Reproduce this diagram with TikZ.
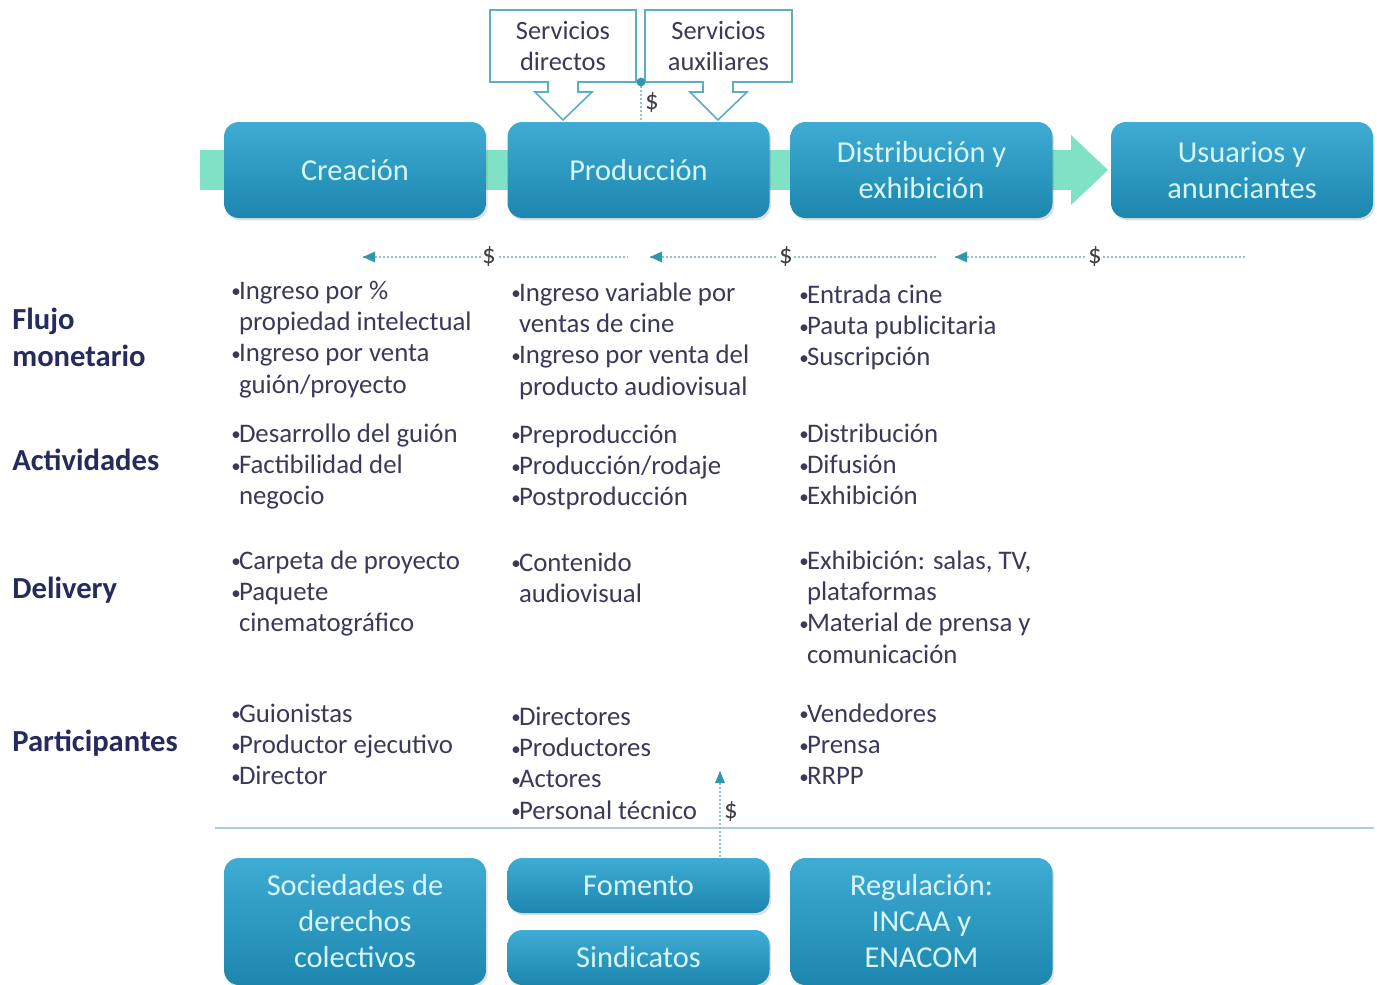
\documentclass[tikz,border=0pt]{standalone}
\usepackage{fontspec}
\setmainfont{Carlito}
\usetikzlibrary{arrows.meta,shadows}
\definecolor{boxtop}{HTML}{3FACD3}
\definecolor{boxbot}{HTML}{1C86AE}
\definecolor{boxtxt}{HTML}{D8F6FA}
\definecolor{band}{HTML}{80E2C4}
\definecolor{navy}{HTML}{262B5E}
\definecolor{bodytxt}{HTML}{3A3A58}
\definecolor{callout}{HTML}{5AAFC2}
\definecolor{dotc}{HTML}{9ABFCC}
\definecolor{headc}{HTML}{2F97AE}
\definecolor{sepc}{HTML}{A8CFD3}
\newcommand{\bul}{\makebox[3.8pt][l]{\raisebox{0.1ex}{\fontsize{9.5}{9.5}\selectfont •}}}
\newcommand{\ind}{\hspace*{3.8pt}}
\newcommand{\blk}[1]{\begin{tabular}[t]{@{}l@{}}#1\end{tabular}}
\begin{document}
\begin{tikzpicture}[x=0.5pt,y=-0.5pt,
  stage/.style={rounded corners=7.5pt, top color=boxtop, bottom color=boxbot, draw=none,
    minimum width=131pt, text=boxtxt, align=center,
    font=\fontsize{15.2}{18}\selectfont,
    drop shadow={opacity=0.25, shadow xshift=0.8pt, shadow yshift=-1.2pt}},
  bodyblk/.style={anchor=base west, inner sep=0pt, text=bodytxt,
    font=\fontsize{13.4}{15.7}\selectfont},
  rowlabel/.style={anchor=base west, inner sep=0pt, text=navy,
    font=\fontsize{15.3}{18.5}\selectfont\bfseries},
  flowline/.style={dotc, line width=0.9pt, dash pattern=on 1pt off 1pt},
  money/.style={fill=white, inner sep=0.5pt, text=black!75, font=\fontsize{13.4}{13.4}\selectfont},
  callbox/.style={draw=callout, line width=0.8pt, fill=white},
  calltxt/.style={text=bodytxt, align=center, font=\fontsize{13.2}{15.5}\selectfont}
]
\useasboundingbox (0,0) rectangle (1377,985);
\fill[white] (0,0) rectangle (1377,985);

% green band with arrow head
\fill[band] (200,150) rectangle (1071,190);
\fill[band] (1071,135) -- (1108,170) -- (1071,205) -- cycle;

% stage boxes
\node[stage, minimum height=48pt] (crea) at (355,170) {Creación};
\node[stage, minimum height=48pt] (prod) at (638.5,170) {Producción};
\node[stage, minimum height=48pt] (dist) at (921.5,170) {Distribución y\\exhibición};
\node[stage, minimum height=48pt] (usu) at (1242,170) {Usuarios y\\anunciantes};

% callouts
\draw[callbox] (490,10) -- (636,10) -- (636,82) -- (578,82) -- (578,92) -- (592,92)
  -- (563,120) -- (535,92) -- (548,92) -- (548,82) -- (490,82) -- cycle;
\node[calltxt] (sdir) at (563,46) {Servicios\\directos};
\draw[callbox] (645,10) -- (792,10) -- (792,82) -- (733,82) -- (733,92) -- (747,92)
  -- (718,120) -- (690,92) -- (703,92) -- (703,82) -- (645,82) -- cycle;
\node[calltxt] (saux) at (718.5,46) {Servicios\\auxiliares};
\coordinate (vtop) at (641,82);
\coordinate (vbot) at (641,121);
\draw[flowline] (vtop) -- (vbot);
\fill[headc] (vtop) circle (2.2pt);
\node[money, fill=none] (m0) at (652,103) {\$};

% money flow arrows
\coordinate (a1) at (363,257); \coordinate (b1) at (628,257);
\coordinate (a2) at (650,257); \coordinate (b2) at (936,257);
\coordinate (a3) at (955,257); \coordinate (b3) at (1246,257);
\foreach \a/\b in {a1/b1,a2/b2,a3/b3}{
  \draw[flowline] (\a) -- (\b);
  \fill[headc] (\a) -- ++(12,-5.5) -- ++(0,11) -- cycle;
}
\node[money] (m1) at (489,257) {\$};
\node[money] (m2) at (786,257) {\$};
\node[money] (m3) at (1095,257) {\$};

% row labels
\node[rowlabel] (lflujo) at (12,329) {\blk{Flujo\\monetario}};
\node[rowlabel] (lact) at (12,470) {Actividades};
\node[rowlabel] (ldel) at (12,598) {Delivery};
\node[rowlabel] (lpart) at (12,751) {Participantes};

% Flujo monetario
\node[bodyblk] (f1) at (231,299) {\blk{\bul Ingreso por \%\\\ind propiedad intelectual\\\bul Ingreso por venta\\\ind guión/proyecto}};
\node[bodyblk] (f2) at (511,301) {\blk{\bul Ingreso variable por\\\ind ventas de cine\\\bul Ingreso por venta del\\\ind producto audiovisual}};
\node[bodyblk] (f3) at (799,303) {\blk{\bul Entrada cine\\\bul Pauta publicitaria\\\bul Suscripción}};

% Actividades
\node[bodyblk] (c1) at (231,442) {\blk{\bul Desarrollo del guión\\\bul Factibilidad del\\\ind negocio}};
\node[bodyblk] (c2) at (511,443) {\blk{\bul Preproducción\\\bul Producción/rodaje\\\bul Postproducción}};
\node[bodyblk] (c3) at (799,442) {\blk{\bul Distribución\\\bul Difusión\\\bul Exhibición}};

% Delivery
\node[bodyblk] (d1) at (231,569) {\blk{\bul Carpeta de proyecto\\\bul Paquete\\\ind cinematográfico}};
\node[bodyblk] (d2) at (511,571) {\blk{\bul Contenido\\\ind audiovisual}};
\node[bodyblk] (d3) at (799,569) {\blk{\bul Exhibición: salas, TV,\\\ind plataformas\\\bul Material de prensa y\\\ind comunicación}};

% Participantes
\node[bodyblk] (p1) at (231,722) {\blk{\bul Guionistas\\\bul Productor ejecutivo\\\bul Director}};
\node[bodyblk] (p2) at (511,725) {\blk{\bul Directores\\\bul Productores\\\bul Actores\\\bul Personal técnico}};
\node[bodyblk] (p3) at (799,722) {\blk{\bul Vendedores\\\bul Prensa\\\bul RRPP}};

% separator
\coordinate (s1) at (215,828); \coordinate (s2) at (1374,828);
\draw[sepc, line width=0.8pt] (s1) -- (s2);

% bottom boxes
\node[stage, minimum height=63.5pt] (soc) at (355,921.5) {Sociedades de\\derechos\\colectivos};
\node[stage, minimum height=27.5pt] (fom) at (638.5,885.5) {Fomento};
\node[stage, minimum height=27.5pt] (sin) at (638.5,957.5) {Sindicatos};
\node[stage, minimum height=63.5pt] (reg) at (921.5,921.5) {Regulación:\\INCAA y\\ENACOM};

% funding arrow
\coordinate (u1) at (720,857); \coordinate (u2) at (720,783);
\draw[flowline] (u1) -- (u2);
\fill[headc] (720,771) -- ++(-5,12) -- ++(10,0) -- cycle;
\node[money, fill=none] (m4) at (731,812) {\$};
\end{tikzpicture}
\end{document}
